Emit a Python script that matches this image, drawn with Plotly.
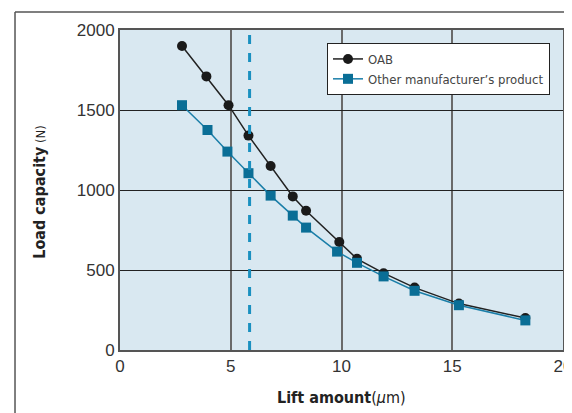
import plotly.graph_objects as go

# Data
oab_x = [2.8, 3.9, 4.9, 5.8, 6.8, 7.8, 8.4, 9.9, 10.7, 11.9, 13.3, 15.3, 18.3]
oab_y = [1900, 1710, 1530, 1340, 1150, 960, 870, 675, 570, 480, 390, 290, 200]
other_x = [2.8, 3.95, 4.85, 5.8, 6.8, 7.8, 8.4, 9.8, 10.7, 11.9, 13.3, 15.3, 18.3]
other_y = [1530, 1375, 1240, 1105, 965, 840, 765, 615, 545, 460, 370, 280, 185]
marker_line_x = 5.85
x_ticks = [0, 5, 10, 15, 20]
y_ticks = [0, 500, 1000, 1500, 2000]

FONT = "DejaVu Sans Condensed, Liberation Sans Narrow, Roboto Condensed, Arial Narrow, sans-serif"
TICKFONT = "Liberation Sans, Arial, sans-serif"

fig = go.Figure()
fig.add_trace(go.Scatter(
    x=oab_x, y=oab_y, mode="lines+markers", name="OAB",
    line=dict(color="#222222", width=1.5),
    marker=dict(symbol="circle", size=10, color="#1a1a1a"),
))
fig.add_trace(go.Scatter(
    x=other_x, y=other_y, mode="lines+markers", name="Other manufacturer’s product",
    line=dict(color="#1a7ea8", width=1.5),
    marker=dict(symbol="square", size=10, color="#0a6e96"),
))

fig.add_shape(type="line", xref="x", yref="paper", x0=marker_line_x, x1=marker_line_x,
              y0=0, y1=1, line=dict(color="#1a90c0", width=3, dash="dash"))

# outer frame (top & left)
fig.add_shape(type="line", xref="paper", yref="paper", x0=-0.237, x1=1.05, y0=1.056, y1=1.056,
              line=dict(color="#555555", width=1.5))
fig.add_shape(type="line", xref="paper", yref="paper", x0=-0.237, x1=-0.237, y0=1.056, y1=-0.25,
              line=dict(color="#555555", width=1.5))

fig.add_annotation(xref="paper", yref="paper", x=(341 - 120) / 443, y=(350.5 - 398) / 320.5,
                   xanchor="center", yanchor="middle",
                   text="<b>Lift amount</b>(<i>μ</i>m)", showarrow=False,
                   font=dict(family=FONT, size=16, color="#222222"))
fig.add_annotation(xref="paper", yref="paper", x=(40 - 120) / 443, y=(350.5 - 192) / 320.5,
                   xanchor="center", yanchor="middle",
                   text="<b>Load capacity</b><span style='font-size:13px'> (N)</span>",
                   showarrow=False, textangle=-90,
                   font=dict(family=FONT, size=16, color="#222222"))

fig.update_layout(
    width=564, height=405,
    margin=dict(l=112, r=9, t=22, b=62.5, autoexpand=False),
    paper_bgcolor="white",
    plot_bgcolor="#d9e8f1",
    showlegend=True,
    legend=dict(
        x=(327 - 120) / 443, y=(350.5 - 43) / 320.5, xanchor="left", yanchor="top",
        bgcolor="white", bordercolor="#222222", borderwidth=1,
        font=dict(family=FONT, size=13, color="#444444"),
        tracegroupgap=0, itemwidth=30,
    ),
    font=dict(family=TICKFONT, size=17, color="#333333"),
)
fig.update_xaxes(range=[0, 20], tickvals=x_ticks, showgrid=True, gridcolor="#6a6a6a", gridwidth=1.5,
                 showline=True, linecolor="#555555", linewidth=2, mirror=True, zeroline=False,
                 automargin=False, ticklabeloverflow="allow",
                 ticks="", tickfont=dict(family=TICKFONT, size=17, color="#333333"))
fig.update_yaxes(range=[0, 2000], tickvals=y_ticks, showgrid=True, gridcolor="#222222", gridwidth=1,
                 showline=True, linecolor="#555555", linewidth=2, mirror=True, zeroline=False,
                 automargin=False, ticklabeloverflow="allow",
                 ticks="", tickfont=dict(family=TICKFONT, size=17, color="#333333"))

fig.write_html("out.html", config={"displayModeBar": False})
